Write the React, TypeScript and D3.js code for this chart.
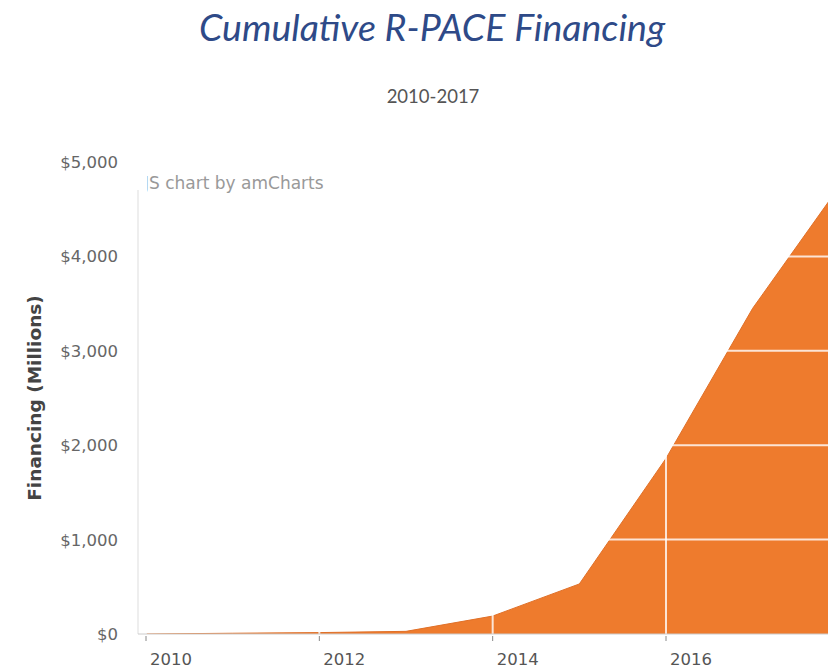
import React from "react";
import * as d3 from "d3";

const years = [2010, 2011, 2012, 2013, 2014, 2015, 2016, 2017, 2018];
const financing = [0, 8, 15, 28, 190, 530, 1860, 3450, 4740];
const yTicks = [0, 1000, 2000, 3000, 4000, 5000];
const xTicks = [2010, 2012, 2014, 2016];
const gridYears = [2010, 2012, 2014, 2016, 2018];

const W = 828;
const H = 668;

export default function App() {
  const x = d3.scaleLinear().domain([2010, 2016]).range([146, 666]);
  const y = d3.scaleLinear().domain([0, 5000]).range([634, 162]);
  const data = years.map((yr, i) => ({ yr, v: financing[i] }));
  const area = d3
    .area<{ yr: number; v: number }>()
    .x((d) => x(d.yr))
    .y0(y(0))
    .y1((d) => y(d.v));
  const line = d3
    .line<{ yr: number; v: number }>()
    .x((d) => x(d.yr))
    .y((d) => y(d.v));
  const fmt = (v: number) => "$" + d3.format(",")(v);
  const axisX = x.invert(138);
  return (
    <svg width={W} height={H} style={{ position: "absolute", left: 0, top: 0, background: "#fff" }}>
      <defs>
        <clipPath id="plot">
          <rect x={138} y={150} width={W - 138} height={634 - 150} />
        </clipPath>
        <clipPath id="wm">
          <rect x={147} y={170} width={260} height={30} />
        </clipPath>
      </defs>
      <text
        x={432}
        y={41}
        textAnchor="middle"
        fontFamily="Lato"
        fontStyle="italic"
        fontSize={37.5}
        fill="#2E4A88"
      >
        Cumulative R-PACE Financing
      </text>
      <text x={433} y={103} textAnchor="middle" fontFamily="Lato" fontSize={18.5} fill="#555">
        2010-2017
      </text>
      <g clipPath="url(#plot)">
        <path d={area(data) || ""} fill="#EE7B2D" />
        <path d={line(data) || ""} fill="none" stroke="#E07028" strokeWidth={1} />
        {yTicks.slice(1).map((t) => (
          <line key={t} x1={138} x2={W} y1={y(t)} y2={y(t)} stroke="#fff" strokeOpacity={0.8} strokeWidth={2} />
        ))}
        {gridYears.map((t) => (
          <line key={t} x1={x(t)} x2={x(t)} y1={162} y2={634} stroke="#fff" strokeOpacity={0.8} strokeWidth={2} />
        ))}
      </g>
      <line x1={138} x2={138} y1={190} y2={634} stroke="#ddd" strokeWidth={1} />
      <line x1={x(axisX)} x2={W} y1={634} y2={634} stroke="#ccc" strokeWidth={1} />
      {yTicks.map((t) => (
        <text key={t} x={118} y={y(t) + 6} textAnchor="end" fontFamily="DejaVu Sans" fontSize={16.5} fill="#666">
          {fmt(t)}
        </text>
      ))}
      {xTicks.map((t) => (
        <g key={t}>
          <line x1={x(t)} x2={x(t)} y1={636} y2={641} stroke="#888" strokeWidth={1} />
          <text x={x(t) + 4} y={665} fontFamily="DejaVu Sans" fontSize={16.5} fill="#555">
            {t}
          </text>
        </g>
      ))}
      <text
        transform={`translate(41,398) rotate(-90)`}
        textAnchor="middle"
        fontFamily="DejaVu Sans"
        fontWeight="bold"
        fontSize={18.5}
        fill="#444"
      >
        Financing (Millions)
      </text>
      <g clipPath="url(#wm)">
        <text x={144} y={189} fontFamily="DejaVu Sans" fontSize={17} fill="#999">
          JS chart by amCharts
        </text>
      </g>
    </svg>
  );
}
